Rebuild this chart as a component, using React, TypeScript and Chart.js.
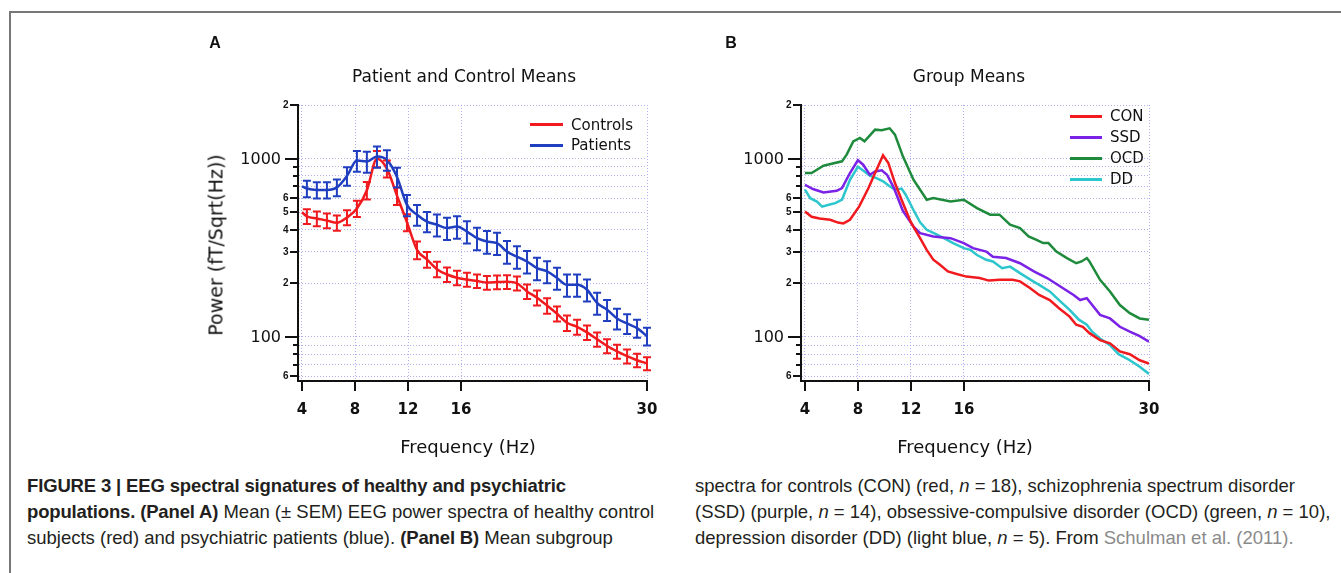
import React, { useEffect, useRef } from "react";
import { Chart, registerables } from "chart.js";

Chart.register(...registerables);

// ---------- axes ----------
const X_MIN = 3.7;
const X_MAX = 30;
const Y_MIN = 56.6;
const Y_MAX = 2000;
const X_TICKS = [4, 8, 12, 16, 30];
const X_TICK_LABELS = ["4", "8", "12", "16", "30"];
const Y_TICKS = [2000, 1000, 900, 800, 700, 600, 500, 400, 300, 200, 100, 90, 80, 70, 60];
const Y_TICK_LABELS = ["2", "1000", "", "", "", "6", "5", "4", "3", "2", "100", "", "", "", "6"];

// ---------- Panel A ----------
const FREQ_A = [
  4.0, 4.37, 5.12, 5.88, 6.63, 7.39, 8.14, 8.89, 9.65, 10.4, 11.16, 11.91, 12.67, 13.42, 14.17,
  14.93, 15.68, 16.43, 17.19, 17.94, 18.7, 19.45, 20.2, 20.96, 21.71, 22.47, 23.22, 23.97, 24.73,
  25.48, 26.24, 26.99, 27.74, 28.5, 29.25, 30.0,
];
const CONTROLS = [
  500, 475, 462, 450, 437, 468, 525, 665, 1000, 880, 620, 440, 308, 272, 240, 224, 215, 210, 206,
  202, 203, 204, 200, 180, 166, 150, 135, 120, 114, 106, 97, 89, 83, 78, 74, 71,
];
const CONTROLS_SEM = [
  null, 45, 44, 43, 43, 45, 55, 75, 105, 95, 70, 48, 35, 28, 24, 21, 20, 19, 18, 18, 18, 18, 18, 17,
  16, 15, 13, 12, 11, 10, 9, 8, 7.5, 7, 6.5, 6,
];
const PATIENTS = [
  700, 680, 668, 668, 690, 800, 975, 965, 1030, 985, 790, 551, 485, 444, 426, 408, 416, 390, 358,
  343, 336, 301, 282, 265, 243, 233, 214, 196, 196, 184, 155, 142, 127, 119, 112, 101,
];
const PATIENTS_SEM = [
  null, 72, 70, 70, 75, 95, 130, 130, 140, 130, 100, 75, 65, 58, 60, 58, 60, 56, 52, 50, 48, 44, 41,
  38, 35, 33, 30, 28, 28, 26, 22, 19, 17, 15, 13, 11.5,
];

// ---------- Panel B ----------
const FREQ_CON = [
  4.0, 4.5, 5.1, 5.9, 6.5, 6.9, 7.4, 8.1, 8.8, 9.3, 9.9, 10.3, 10.8, 11.3, 12.0, 12.7, 13.2, 13.7,
  14.2, 14.8, 15.4, 16.2, 17.2, 17.9, 18.7, 19.7, 20.25, 21.0, 21.7, 22.5, 23.2, 24.0, 24.5, 25.0,
  25.5, 26.3, 27.05, 27.8, 28.55, 29.3, 30.0,
];
const CON = [
  505, 472, 462, 454, 438, 433, 454, 540, 684, 831, 1045, 946, 730, 588, 440, 358, 308, 271, 254,
  233, 226, 218, 214, 207, 209, 209, 205, 188, 172, 161, 145, 130, 117, 114, 105, 96, 92, 83, 80, 74,
  71,
];
const FREQ_SSD = [
  4.0, 4.6, 5.4, 6.4, 6.8, 7.4, 8.0, 8.4, 8.9, 9.3, 9.8, 10.2, 10.7, 11.4, 12.2, 12.7, 13.7, 15.0,
  16.0, 16.7, 17.7, 18.2, 19.2, 20.25, 21.3, 22.3, 23.3, 24.3, 24.8, 25.3, 25.8, 26.3, 27.05, 27.8,
  28.55, 29.3, 30.0,
];
const SSD = [
  714, 676, 646, 660, 684, 831, 980, 925, 813, 848, 860, 813, 690, 510, 416, 382, 366, 358, 336,
  315, 301, 282, 277, 259, 233, 214, 192, 172, 161, 165, 148, 133, 127, 114, 107, 101, 94,
];
const FREQ_OCD = [
  4.0, 4.5, 4.9, 5.4, 6.1, 6.8, 7.15, 7.65, 8.15, 8.5, 9.3, 9.8, 10.4, 10.8, 11.4, 12.2, 13.2, 13.7,
  15.0, 16.0, 17.0, 18.0, 18.7, 19.5, 20.25, 20.9, 21.5, 22.0, 22.4, 23.0, 23.8, 24.5, 24.9, 25.3,
  25.5, 26.3, 27.05, 27.8, 28.55, 29.3, 30.0,
];
const OCD = [
  831, 831, 867, 913, 940, 966, 1053, 1251, 1307, 1251, 1455, 1443, 1480, 1364, 1030, 762, 588, 601,
  575, 588, 528, 485, 485, 426, 408, 366, 350, 336, 336, 301, 277, 259, 265, 277, 265, 209, 180, 151,
  136, 127, 125,
];
const FREQ_DD = [
  4.0, 4.4, 4.9, 5.3, 5.8, 6.3, 6.8, 7.4, 8.0, 8.5, 8.9, 9.4, 9.9, 10.4, 10.8, 11.3, 11.6, 12.2,
  12.7, 13.2, 13.7, 14.5, 15.2, 16.0, 16.5, 17.0, 17.7, 18.2, 18.9, 19.5, 20.25, 21.25, 21.7, 22.5,
  23.2, 24.0, 24.7, 25.3, 25.7, 26.3, 27.05, 27.7, 28.55, 29.3, 30.0,
];
const DD = [
  670, 600, 575, 538, 551, 563, 590, 760, 900, 848, 803, 778, 746, 700, 670, 680, 630, 515, 440,
  399, 383, 358, 336, 315, 308, 288, 271, 265, 243, 248, 228, 205, 196, 180, 161, 142, 125, 117, 107,
  98, 90, 80, 74, 68, 62,
];

// ---------- colours / names ----------
const RED = "#f01a1f";
const BLUE = "#1f3fc0";
const PURPLE = "#7a22e6";
const GREEN = "#1e8a3c";
const CYAN = "#2cc6cc";
const GRID_COLOR = "rgba(150,150,235,0.75)";

const SERIES_A = [
  { name: "Controls", color: RED, freq: FREQ_A, values: CONTROLS, sem: CONTROLS_SEM, order: 1 },
  { name: "Patients", color: BLUE, freq: FREQ_A, values: PATIENTS, sem: PATIENTS_SEM, order: 0 },
];
const SERIES_B = [
  { name: "CON", color: RED, freq: FREQ_CON, values: CON, sem: null, order: 0 },
  { name: "SSD", color: PURPLE, freq: FREQ_SSD, values: SSD, sem: null, order: 1 },
  { name: "OCD", color: GREEN, freq: FREQ_OCD, values: OCD, sem: null, order: 2 },
  { name: "DD", color: CYAN, freq: FREQ_DD, values: DD, sem: null, order: 3 },
];

const TICK_FONT = '"DejaVu Sans", sans-serif';

const axisPlugin = {
  id: "customAxes",
  afterDraw(chart: any) {
    const { ctx, chartArea } = chart;
    const xs = chart.scales.x;
    const ys = chart.scales.y;
    const axisX = chartArea.left;
    const axisY = chartArea.bottom;
    ctx.save();
    ctx.strokeStyle = "#111";
    ctx.fillStyle = "#111";
    ctx.lineWidth = 2;
    Y_TICKS.forEach((v, i) => {
      const py = Math.round(ys.getPixelForValue(v));
      const label = Y_TICK_LABELS[i];
      const major = label.length > 1;
      const len = major ? 13 : label ? 8 : 5;
      ctx.beginPath();
      ctx.moveTo(axisX - len, py);
      ctx.lineTo(axisX, py);
      ctx.stroke();
      if (label) {
        ctx.font = major ? `16px ${TICK_FONT}` : 'bold 10px "Liberation Sans", sans-serif';
        ctx.textAlign = "right";
        ctx.textBaseline = "middle";
        ctx.fillText(label, axisX - len - (major ? 4 : 1.5), py + (major ? 1 : 0.5));
      }
    });
    X_TICKS.forEach((v, i) => {
      const px = Math.round(xs.getPixelForValue(v));
      ctx.beginPath();
      ctx.moveTo(px, axisY);
      ctx.lineTo(px, axisY + 10);
      ctx.stroke();
      ctx.font = `bold 15px ${TICK_FONT}`;
      ctx.textAlign = "center";
      ctx.textBaseline = "middle";
      ctx.fillText(X_TICK_LABELS[i], px, axisY + 29);
    });
    ctx.restore();
  },
};

const errorBarPlugin = {
  id: "errorBars",
  afterDatasetsDraw(chart: any) {
    const { ctx } = chart;
    const ys = chart.scales.y;
    chart.data.datasets.forEach((ds: any, di: number) => {
      const errs = ds.errors;
      if (!errs) return;
      const meta = chart.getDatasetMeta(di);
      ctx.save();
      ctx.strokeStyle = ds.borderColor;
      ctx.lineWidth = 2;
      meta.data.forEach((pt: any, i: number) => {
        const e = errs[i];
        if (e == null) return;
        const v = ds.data[i].y;
        const top = ys.getPixelForValue(v + e);
        const bot = ys.getPixelForValue(v - e);
        ctx.beginPath();
        ctx.moveTo(pt.x, top);
        ctx.lineTo(pt.x, bot);
        ctx.moveTo(pt.x - 4, top);
        ctx.lineTo(pt.x + 4, top);
        ctx.moveTo(pt.x - 4, bot);
        ctx.lineTo(pt.x + 4, bot);
        ctx.stroke();
      });
      ctx.restore();
    });
  },
};

function buildConfig(series: any[], yAxisWidth: number, rightPad: number, smooth: boolean): any {
  return {
    type: "line",
    data: {
      datasets: series.map((s) => ({
        label: s.name,
        data: s.freq.map((f: number, i: number) => ({ x: f, y: s.values[i] })),
        borderColor: s.color,
        backgroundColor: s.color,
        borderWidth: 2.5,
        pointRadius: 0,
        fill: false,
        tension: 0,
        cubicInterpolationMode: smooth ? "monotone" : "default",
        order: s.order,
        errors: s.sem,
      })),
    },
    options: {
      animation: false,
      responsive: false,
      events: [],
      layout: { padding: { top: 55, right: rightPad, left: 0, bottom: 0 } },
      plugins: {
        legend: { display: false },
        title: { display: false },
        tooltip: { enabled: false },
      },
      scales: {
        x: {
          type: "linear",
          min: X_MIN,
          max: X_MAX,
          afterFit: (s: any) => {
            s.height = 89;
          },
          afterBuildTicks: (s: any) => {
            s.ticks = X_TICKS.map((v) => ({ value: v }));
          },
          ticks: { display: false },
          grid: { drawTicks: false, color: GRID_COLOR, lineWidth: 1 },
          border: { display: true, color: "#111", width: 2, dash: [1, 2] },
        },
        y: {
          type: "logarithmic",
          min: Y_MIN,
          max: Y_MAX,
          afterFit: (s: any) => {
            s.width = yAxisWidth;
          },
          afterBuildTicks: (s: any) => {
            s.ticks = Y_TICKS.map((v) => ({ value: v }));
          },
          ticks: { display: false },
          grid: { drawTicks: false, color: GRID_COLOR, lineWidth: 1 },
          border: { display: true, color: "#111", width: 2, dash: [1, 2] },
        },
      },
    },
    plugins: [errorBarPlugin, axisPlugin],
  };
}

const LABEL_FONT = '"DejaVu Sans", sans-serif';
const CAPTION_FONT = '"Liberation Sans", Arial, sans-serif';

function Centered(props: { x: number; y: number; size: number; bold?: boolean; font?: string; rotate?: boolean; children: any }) {
  return (
    <div
      style={{
        position: "absolute",
        left: props.x,
        top: props.y,
        transform: `translate(-50%, -50%)${props.rotate ? " rotate(-90deg)" : ""}`,
        whiteSpace: "nowrap",
        lineHeight: 1,
        fontSize: props.size,
        fontWeight: props.bold ? "bold" : "normal",
        fontFamily: props.font || LABEL_FONT,
        color: "#111",
      }}
    >
      {props.children}
    </div>
  );
}

function Legend(props: { series: any[]; x: number; y: number; step: number; lineLen: number }) {
  return (
    <>
      {props.series.map((s, i) => (
        <div key={s.name}>
          <div
            style={{
              position: "absolute",
              left: props.x,
              top: props.y + i * props.step - 1.5,
              width: props.lineLen,
              height: 3,
              background: s.color,
            }}
          />
          <div
            style={{
              position: "absolute",
              left: props.x + props.lineLen + 8,
              top: props.y + i * props.step,
              transform: "translateY(-50%)",
              fontSize: 15,
              lineHeight: 1,
              fontFamily: LABEL_FONT,
              color: "#111",
              whiteSpace: "nowrap",
            }}
          >
            {s.name}
          </div>
        </div>
      ))}
    </>
  );
}

const boldStyle = { fontWeight: "bold" as const, letterSpacing: "-0.15px" };

function CapLine(props: { x: number; y: number; children: any }) {
  return (
    <div
      style={{
        position: "absolute",
        left: props.x,
        top: props.y - 13,
        height: 26,
        lineHeight: "26px",
        fontSize: 18.5,
        fontFamily: CAPTION_FONT,
        color: "#231f20",
        whiteSpace: "nowrap",
      }}
    >
      {props.children}
    </div>
  );
}

export default function App() {
  const refA = useRef<HTMLCanvasElement>(null);
  const refB = useRef<HTMLCanvasElement>(null);

  useEffect(() => {
    const a = new Chart(refA.current as HTMLCanvasElement, buildConfig(SERIES_A, 108, 33, true));
    const b = new Chart(refB.current as HTMLCanvasElement, buildConfig(SERIES_B, 101, 31, false));
    return () => {
      a.destroy();
      b.destroy();
    };
  }, []);

  return (
    <div
      style={{
        position: "absolute",
        left: 0,
        top: 0,
        width: 1341,
        height: 573,
        overflow: "hidden",
        background: "#fff",
      }}
    >
      <div
        style={{
          position: "absolute",
          left: 9,
          top: 11,
          width: 1400,
          height: 700,
          borderLeft: "2px solid #777",
          borderTop: "2px solid #777",
        }}
      />
      <canvas ref={refA} width={490} height={420} style={{ position: "absolute", left: 190, top: 50 }} />
      <canvas ref={refB} width={480} height={420} style={{ position: "absolute", left: 700, top: 50 }} />

      <Centered x={215} y={42.5} size={16} bold font='"Liberation Sans", Arial, sans-serif'>A</Centered>
      <Centered x={731} y={42.5} size={16} bold font='"Liberation Sans", Arial, sans-serif'>B</Centered>

      <Centered x={464} y={75.5} size={17}>Patient and Control Means</Centered>
      <Centered x={969} y={75.5} size={17}>Group Means</Centered>

      <Centered x={216} y={245} size={19} rotate>Power (fT/Sqrt(Hz))</Centered>
      <Centered x={468} y={447} size={18}>Frequency (Hz)</Centered>
      <Centered x={965} y={447} size={18}>Frequency (Hz)</Centered>

      <Legend series={SERIES_A} x={530} y={124.5} step={20.5} lineLen={33} />
      <Legend series={SERIES_B} x={1070} y={116} step={21} lineLen={32} />

      <CapLine x={27} y={486}>
        <span style={boldStyle}>FIGURE 3 | EEG spectral signatures of healthy and psychiatric</span>
      </CapLine>
      <CapLine x={27} y={512}>
        <span style={boldStyle}>populations. (Panel A)</span> Mean (± SEM) EEG power spectra of healthy control
      </CapLine>
      <CapLine x={27} y={538}>
        subjects (red) and psychiatric patients (blue). <span style={boldStyle}>(Panel B)</span> Mean subgroup
      </CapLine>
      <CapLine x={695} y={486}>
        spectra for controls (CON) (red, <i>n</i> = 18), schizophrenia spectrum disorder
      </CapLine>
      <CapLine x={695} y={512}>
        (SSD) (purple, <i>n</i> = 14), obsessive-compulsive disorder (OCD) (green, <i>n</i> = 10),
      </CapLine>
      <CapLine x={695} y={538}>
        depression disorder (DD) (light blue, <i>n</i> = 5). From{" "}
        <span style={{ color: "#8a8a8a" }}>Schulman et al. (2011).</span>
      </CapLine>
    </div>
  );
}
